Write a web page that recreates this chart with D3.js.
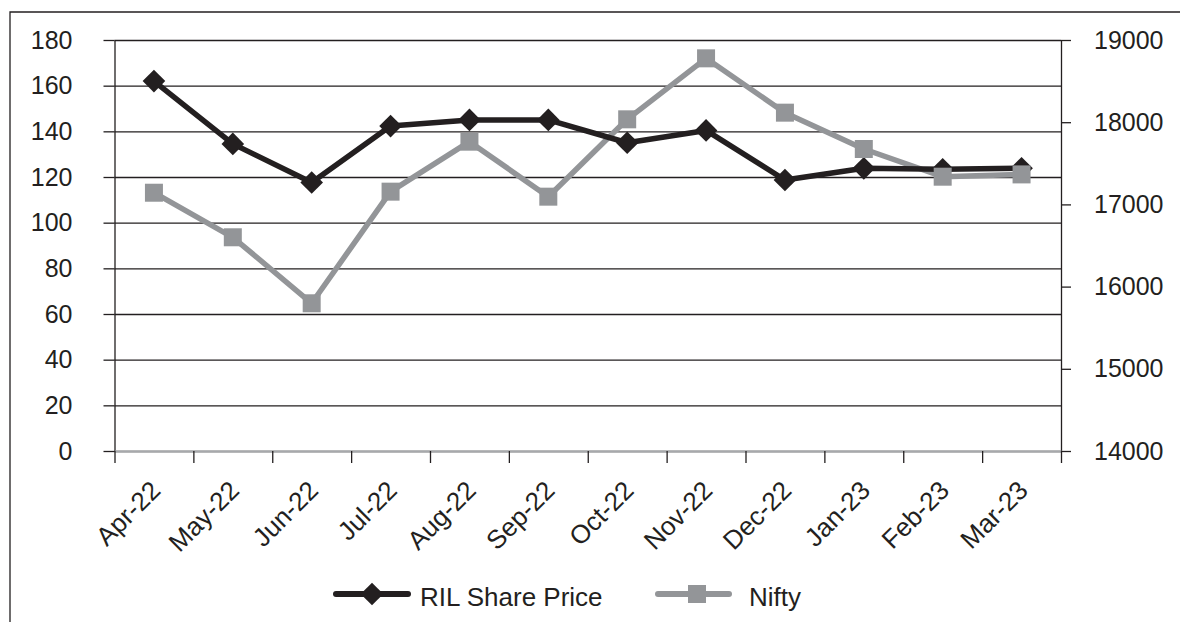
<!DOCTYPE html>
<html lang="en">
<head>
    <meta charset="UTF-8">
    <title>RIL Share Price vs Nifty</title>
    <script src="https://d3js.org/d3.v7.min.js"></script>
    <style>
        body { margin: 0; background: #fff; }
        text { font-family: "Liberation Sans", Arial, Helvetica, sans-serif; fill: #231f20; }
    </style>
</head>
<body>
    <div id="chart"></div>

    <script>
        // Data
        const months = ["Apr-22", "May-22", "Jun-22", "Jul-22", "Aug-22", "Sep-22",
                        "Oct-22", "Nov-22", "Dec-22", "Jan-23", "Feb-23", "Mar-23"];
        const rilPrice = [162, 134.5, 117.6, 142.3, 145, 145, 135, 140.4, 118.7, 123.8, 123.4, 123.8];
        const nifty = [17142, 16600, 15797, 17155, 17763, 17094, 18035, 18777, 18116, 17674, 17337, 17365];
        const leftTicks = [0, 20, 40, 60, 80, 100, 120, 140, 160, 180];
        const rightTicks = [14000, 15000, 16000, 17000, 18000, 19000];

        const dark = "#231f20";
        const grey = "#939598";

        const totalWidth = 1180, totalHeight = 622;
        const margin = {top: 40, right: 119, bottom: 171, left: 114.5};
        const width = totalWidth - margin.left - margin.right;
        const height = totalHeight - margin.top - margin.bottom;

        const root = d3.select("#chart")
            .append("svg")
            .attr("width", totalWidth)
            .attr("height", totalHeight);

        // outer frame (only left and top edges are visible)
        root.append("path")
            .attr("d", `M10,${totalHeight} V12 H${totalWidth}`)
            .attr("fill", "none")
            .attr("stroke", dark)
            .attr("stroke-width", 1.3);

        const svg = root.append("g")
            .attr("transform", `translate(${margin.left},${margin.top})`);

        // Scales
        const x = d3.scaleBand().domain(months).range([0, width]);
        const xEdges = d3.scaleLinear().domain([0, months.length]).range([0, width]);
        const yLeft = d3.scaleLinear().domain([0, 180]).range([height, 0]);
        const yRight = d3.scaleLinear().domain([14000, 19000]).range([height, 0]);

        // Gridlines
        svg.append("g")
            .attr("class", "grid")
            .call(d3.axisLeft(yLeft).tickValues(leftTicks).tickSize(-width).tickFormat(""))
            .call(g => g.select(".domain").remove())
            .selectAll("line")
            .attr("stroke", dark)
            .attr("stroke-width", 1.3);

        // Left axis
        svg.append("g")
            .attr("class", "y-axis")
            .call(d3.axisLeft(yLeft).tickValues(leftTicks).tickSize(11).tickPadding(31).tickSizeOuter(0))
            .call(g => g.select(".domain").attr("stroke", dark).attr("stroke-width", 1.3))
            .call(g => g.selectAll(".tick line").attr("stroke", dark).attr("stroke-width", 1.3))
            .call(g => g.selectAll("text").style("font-size", "25px").attr("fill", dark));

        // Right axis
        svg.append("g")
            .attr("class", "y-axis-right")
            .attr("transform", `translate(${width},0)`)
            .call(d3.axisRight(yRight).tickValues(rightTicks).tickSize(10).tickPadding(23).tickSizeOuter(0).tickFormat(d3.format("d")))
            .call(g => g.select(".domain").attr("stroke", dark).attr("stroke-width", 1.3))
            .call(g => g.selectAll(".tick line").attr("stroke", dark).attr("stroke-width", 1.3))
            .call(g => g.selectAll("text").style("font-size", "25px").attr("fill", dark));

        // X axis: boundary ticks
        svg.append("g")
            .attr("class", "x-ticks")
            .attr("transform", `translate(0,${height})`)
            .call(d3.axisBottom(xEdges).tickValues(d3.range(months.length + 1)).tickSize(12).tickSizeOuter(0).tickFormat(""))
            .call(g => g.select(".domain").attr("stroke", "#a7a9ac").attr("stroke-width", 2.2))
            .call(g => g.selectAll(".tick line").attr("stroke", dark).attr("stroke-width", 1.3));

        // X axis: rotated month labels
        svg.append("g")
            .attr("class", "x-axis")
            .attr("transform", `translate(0,${height})`)
            .call(d3.axisBottom(x).tickSize(0))
            .call(g => g.select(".domain").remove())
            .selectAll("text")
            .attr("x", 0)
            .attr("y", 0)
            .attr("dy", 0)
            .attr("transform", "translate(8,41) rotate(-45)")
            .style("text-anchor", "end")
            .style("font-size", "26px")
            .attr("fill", dark);

        const cx = (d, i) => x(months[i]) + x.bandwidth() / 2;

        // Nifty line (right axis)
        svg.append("path")
            .datum(nifty)
            .attr("fill", "none")
            .attr("stroke", grey)
            .attr("stroke-width", 5.5)
            .attr("stroke-linejoin", "round")
            .attr("d", d3.line().x(cx).y(d => yRight(d)));

        // RIL line (left axis)
        svg.append("path")
            .datum(rilPrice)
            .attr("fill", "none")
            .attr("stroke", dark)
            .attr("stroke-width", 5.5)
            .attr("stroke-linejoin", "round")
            .attr("d", d3.line().x(cx).y(d => yLeft(d)));

        const diamond = d3.symbol().type(d3.symbolSquare).size(256);
        const square = d3.symbol().type(d3.symbolSquare).size(324);

        svg.selectAll(".ril-marker")
            .data(rilPrice)
            .enter().append("path")
            .attr("class", "ril-marker")
            .attr("d", diamond)
            .attr("fill", dark)
            .attr("transform", (d, i) => `translate(${cx(d, i)},${yLeft(d)}) rotate(45)`);

        svg.selectAll(".nifty-marker")
            .data(nifty)
            .enter().append("path")
            .attr("class", "nifty-marker")
            .attr("d", square)
            .attr("fill", grey)
            .attr("transform", (d, i) => `translate(${cx(d, i)},${yRight(d)})`);

        // Legend
        const legendItems = [
            {name: "RIL Share Price", color: dark, symbol: diamond, rotate: 45, x0: 336, x1: 408, mx: 372, tx: 420},
            {name: "Nifty", color: grey, symbol: square, rotate: 0, x0: 658, x1: 729, mx: 697, tx: 749}
        ];
        const legendY = 594;

        const legend = root.append("g").attr("class", "legend");
        legendItems.forEach(item => {
            legend.append("line")
                .attr("x1", item.x0).attr("x2", item.x1)
                .attr("y1", legendY).attr("y2", legendY)
                .attr("stroke", item.color)
                .attr("stroke-width", 6)
                .attr("stroke-linecap", "round");
            legend.append("path")
                .attr("d", item.symbol)
                .attr("fill", item.color)
                .attr("transform", `translate(${item.mx},${legendY}) rotate(${item.rotate})`);
            legend.append("text")
                .attr("x", item.tx)
                .attr("y", legendY + 12)
                .style("font-size", "26px")
                .text(item.name);
        });
    </script>
</body>
</html>
